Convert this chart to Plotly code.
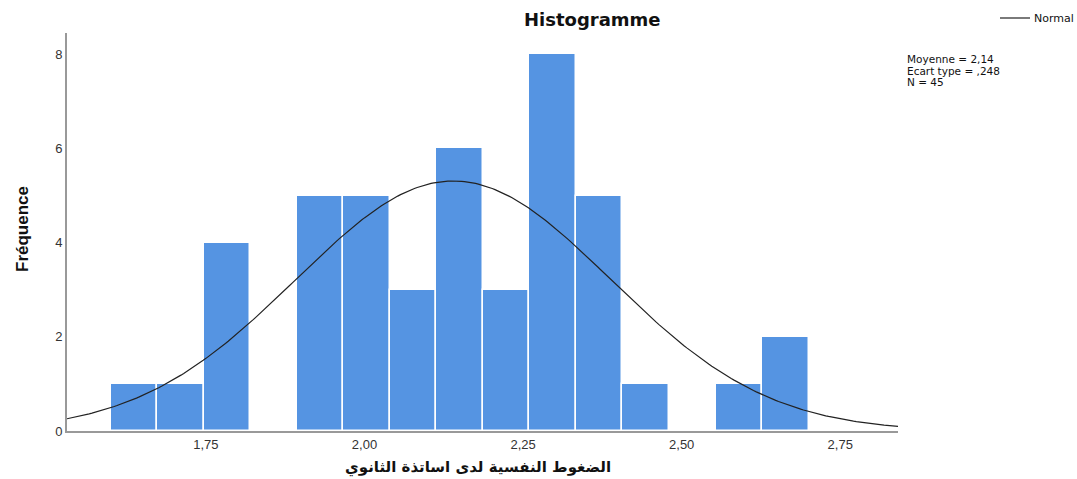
import numpy as np
import plotly.graph_objects as go

# Data
bin_start = 1.6
bin_end = 2.7
counts = [1, 1, 4, 0, 5, 5, 3, 6, 3, 8, 5, 1, 0, 1, 2]
mean_val = 2.14
sd_val = 0.248
n_val = 45
x_ticks = [1.75, 2.00, 2.25, 2.50, 2.75]
x_tick_labels = ["1,75", "2,00", "2,25", "2,50", "2,75"]
y_ticks = [0, 2, 4, 6, 8]
stats_lines = ["Moyenne = 2,14", "Ecart type = ,248", "N = 45"]
x_title = "الضغوط النفسية لدى اساتذة الثانوي"

nb = len(counts)
bw = (bin_end - bin_start) / nb
centers = [bin_start + bw * (i + 0.5) for i in range(nb)]

fig = go.Figure()
fig.add_trace(go.Bar(
    x=centers, y=counts, width=[bw] * nb,
    marker=dict(color="#5594E2", line=dict(color="white", width=1.5)),
    showlegend=False, hoverinfo="x+y",
))

xs = np.linspace(1.531, 2.841, 300)
ys = n_val * bw / (sd_val * np.sqrt(2 * np.pi)) * np.exp(-0.5 * ((xs - mean_val) / sd_val) ** 2)
fig.add_trace(go.Scatter(x=xs, y=ys, mode="lines", line=dict(color="#222222", width=1.2),
                         name="Normal", showlegend=False))

font_main = "Liberation Sans, Arial, sans-serif"
L, R, T, B = 67, 179, 33, 48
PW, PH = 1077 - L - R, 479 - T - B


def px(x):
    return (x - L) / PW


def py(y):
    return (479 - B - y) / PH


fig.update_layout(
    width=1077, height=479,
    margin=dict(l=L, r=R, t=T, b=B),
    plot_bgcolor="white", paper_bgcolor="white",
    bargap=0,
    font=dict(family=font_main, size=13, color="#333333"),
    xaxis=dict(range=[1.531, 2.841], tickvals=x_ticks, ticktext=x_tick_labels,
               showgrid=False, zeroline=False, showline=True, linecolor="#999999", linewidth=2,
               ticks="", ticklen=0, tickfont=dict(size=13, color="#333333")),
    yaxis=dict(range=[0, 8.45], tickvals=y_ticks, showgrid=False, zeroline=False,
               showline=True, linecolor="#999999", linewidth=2, ticks="",
               tickfont=dict(size=13, color="#333333")),
)

# Title
fig.add_annotation(text="<b>Histogramme</b>", xref="paper", yref="paper", x=px(592), y=py(20),
                   xanchor="center", yanchor="middle", showarrow=False,
                   font=dict(size=18, color="#111111", family="DejaVu Sans, sans-serif"))
# y title
fig.add_annotation(text="<b>Fréquence</b>", xref="paper", yref="paper", x=px(22), y=py(229),
                   xanchor="center", yanchor="middle", textangle=-90, showarrow=False,
                   font=dict(size=17, color="#111111", family="Liberation Sans Narrow, Liberation Sans, Arial"))
# x title
fig.add_annotation(text="<b>" + x_title + "</b>", xref="paper", yref="paper", x=px(478),
                   y=py(468), xanchor="center", yanchor="middle", showarrow=False,
                   font=dict(size=15, color="#111111", family="DejaVu Sans, Noto Sans, sans-serif"))
# legend
fig.add_shape(type="line", xref="paper", yref="paper", x0=px(1000), x1=px(1030),
              y0=py(18), y1=py(18), line=dict(color="#222222", width=1.2))
fig.add_annotation(text="Normal", xref="paper", yref="paper", x=px(1032), y=py(18),
                   xanchor="left", yanchor="middle", showarrow=False,
                   font=dict(size=11, color="#111111", family="DejaVu Sans, sans-serif"))
# stats
for i, line in enumerate(stats_lines):
    fig.add_annotation(text=line, xref="paper", yref="paper",
                       x=px(906), y=py(59 + 11.5 * i), xanchor="left", yanchor="middle", align="left",
                       showarrow=False, borderpad=0,
                       font=dict(size=10.5, color="#111111", family="DejaVu Sans, sans-serif"))

fig.write_html("out.html", config={"displayModeBar": False},
               post_script="document.body.style.margin='0px';document.body.style.overflow='hidden';")
